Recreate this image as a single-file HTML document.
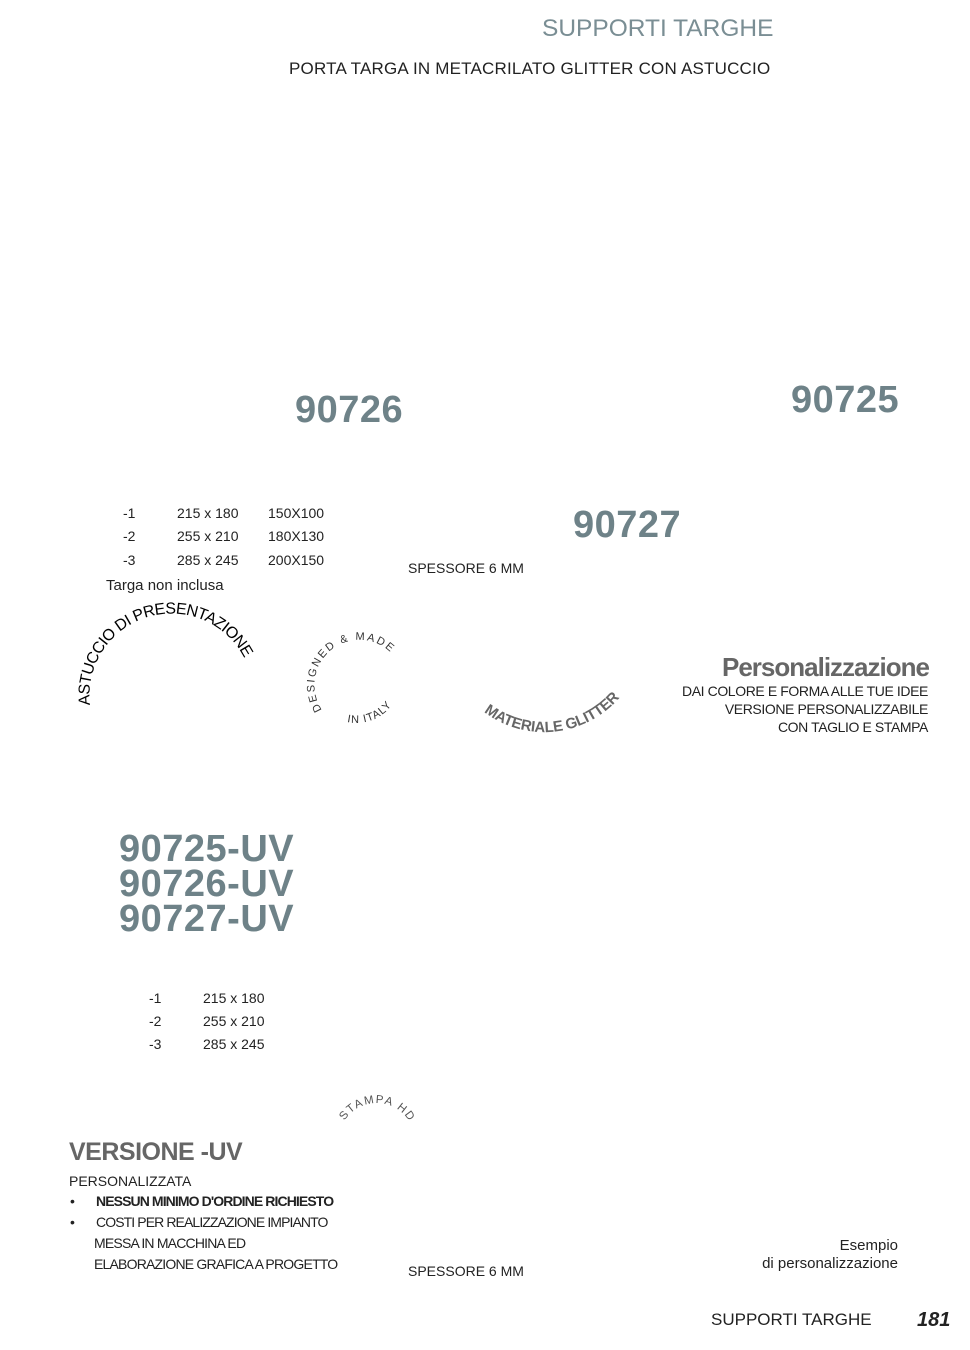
<!DOCTYPE html>
<html><head><meta charset="utf-8"><style>
body{margin:0;background:#fff}
#p{position:relative;width:970px;height:1350px;overflow:hidden;font-family:"Liberation Sans",sans-serif;color:#222}
.a{position:absolute;white-space:nowrap}
.n{font-weight:bold;color:#6e8288;font-family:"Liberation Sans",sans-serif;letter-spacing:0.5px}
.s{font-size:14px}
</style></head><body><div id="p">
<div class="a" style="left:542px;top:15px;font-size:24.5px;color:#7a8e94">SUPPORTI TARGHE</div>
<div class="a" style="left:289px;top:59px;font-size:17px;letter-spacing:0.2px">PORTA TARGA IN METACRILATO GLITTER CON ASTUCCIO</div>
<div class="a n" style="left:295px;top:389px;font-size:38px">90726</div>
<div class="a n" style="left:791px;top:379px;font-size:38px">90725</div>
<div class="a n" style="left:573px;top:504px;font-size:38px">90727</div>
<div class="a s" style="left:123px;top:505px">-1</div><div class="a s" style="left:177px;top:505px">215 x 180</div><div class="a s" style="left:268px;top:505px">150X100</div>
<div class="a s" style="left:123px;top:528px">-2</div><div class="a s" style="left:177px;top:528px">255 x 210</div><div class="a s" style="left:268px;top:528px">180X130</div>
<div class="a s" style="left:123px;top:552px">-3</div><div class="a s" style="left:177px;top:552px">285 x 245</div><div class="a s" style="left:268px;top:552px">200X150</div>
<div class="a" style="left:106px;top:577px;font-size:15px">Targa non inclusa</div>
<div class="a s" style="left:408px;top:560px">SPESSORE 6 MM</div>
<div class="a" style="left:722px;top:652px;font-size:26px;font-weight:bold;color:#666;letter-spacing:-1px">Personalizzazione</div>
<div class="a" style="right:42px;top:682px;font-size:14px;text-align:right;line-height:18px;letter-spacing:-0.4px">DAI COLORE E FORMA ALLE TUE IDEE<br>VERSIONE PERSONALIZZABILE<br>CON TAGLIO E STAMPA</div>
<svg class="a" style="left:0;top:0" width="970" height="1350">
<defs>
<path id="c1" d="M90 705 A82 82 0 0 1 250 672"/>
<path id="c2" d="M322 710 A44 44 0 1 1 397 660"/>
<path id="c3" d="M347 722 A44 44 0 0 0 396 698"/>
<path id="c4" d="M484 712 A100 100 0 0 0 634 676"/>
<path id="c5" d="M341 1128 A38 38 0 0 1 412 1127"/>
</defs>
<text font-family="Liberation Sans" font-size="16"><textPath href="#c1" textLength="228">ASTUCCIO DI PRESENTAZIONE</textPath></text>
<text font-family="Liberation Sans" font-size="11" letter-spacing="2" fill="#333"><textPath href="#c2">DESIGNED &amp; MADE</textPath></text>
<text font-family="Liberation Sans" font-size="11" letter-spacing="1" fill="#333"><textPath href="#c3">IN ITALY</textPath></text>
<text font-family="Liberation Sans" font-size="15" font-weight="bold" fill="#666"><textPath href="#c4" textLength="150">MATERIALE GLITTER</textPath></text>
<text font-family="Liberation Sans" font-size="11.5" letter-spacing="1.5" fill="#555"><textPath href="#c5" startOffset="8">STAMPA HD</textPath></text>
</svg>
<div class="a n" style="left:119px;top:832px;font-size:38px;line-height:35px">90725-UV<br>90726-UV<br>90727-UV</div>
<div class="a s" style="left:149px;top:990px">-1</div><div class="a s" style="left:203px;top:990px">215 x 180</div>
<div class="a s" style="left:149px;top:1013px">-2</div><div class="a s" style="left:203px;top:1013px">255 x 210</div>
<div class="a s" style="left:149px;top:1036px">-3</div><div class="a s" style="left:203px;top:1036px">285 x 245</div>
<div class="a" style="left:69px;top:1138px;font-size:25px;font-weight:bold;color:#666;letter-spacing:-0.5px">VERSIONE -UV</div>
<div class="a s" style="left:69px;top:1173px">PERSONALIZZATA</div>
<div class="a" style="left:70px;top:1193px;font-size:14px">•</div>
<div class="a" style="left:96px;top:1193px;font-size:14px;font-weight:bold;letter-spacing:-0.9px">NESSUN MINIMO D'ORDINE RICHIESTO</div>
<div class="a" style="left:70px;top:1214px;font-size:14px">•</div>
<div class="a" style="left:96px;top:1214px;font-size:14px;letter-spacing:-0.9px">COSTI PER REALIZZAZIONE IMPIANTO</div>
<div class="a" style="left:94px;top:1235px;font-size:14px;letter-spacing:-0.8px">MESSA IN MACCHINA ED</div>
<div class="a" style="left:94px;top:1256px;font-size:14px;letter-spacing:-0.8px">ELABORAZIONE GRAFICA A PROGETTO</div>
<div class="a s" style="left:408px;top:1263px">SPESSORE 6 MM</div>
<div class="a" style="right:72px;top:1237px;font-size:15px;text-align:right;line-height:18px">Esempio<br>di personalizzazione</div>
<div class="a" style="left:711px;top:1310px;font-size:17px">SUPPORTI TARGHE</div>
<div class="a" style="left:917px;top:1309px;font-size:20px;font-weight:bold;font-style:italic">181</div>
</div></body></html>
